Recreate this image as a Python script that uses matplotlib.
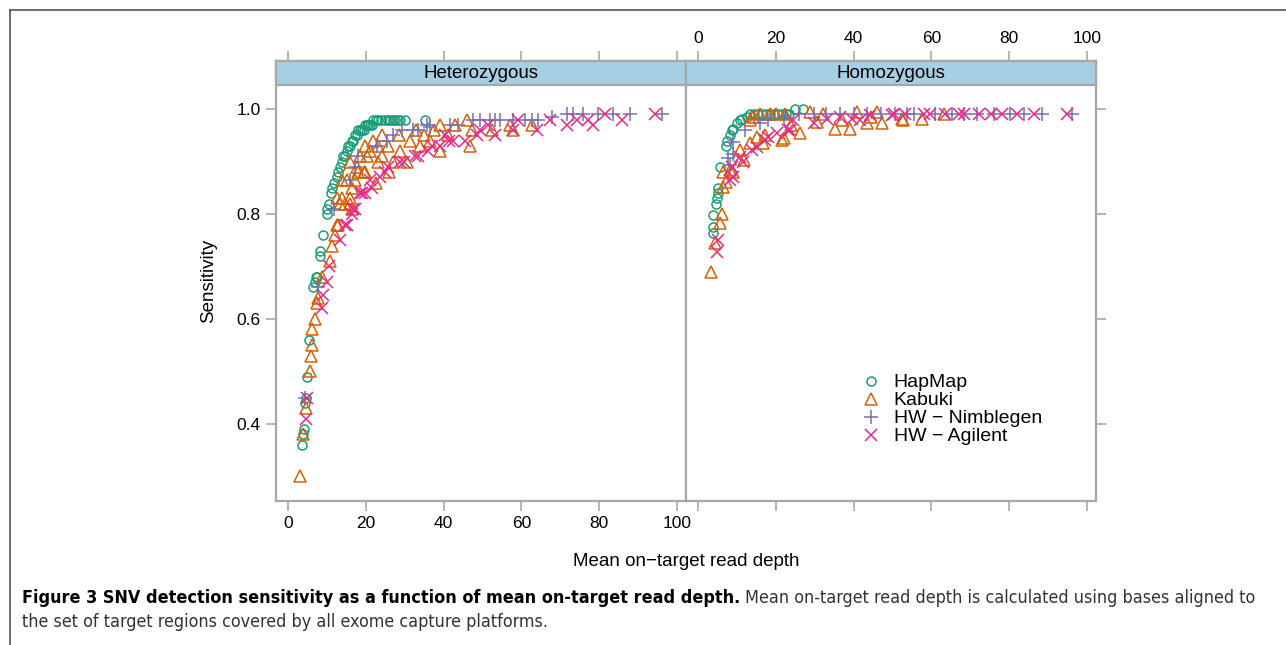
import numpy as np
import matplotlib.pyplot as plt
from matplotlib.patches import Rectangle
from matplotlib.lines import Line2D

# ---- data ----
het_hapmap_x = [3.6, 3.9, 4.0, 4.4, 4.5, 4.8, 5.5, 6.5, 6.9, 7.3, 7.4, 8.1, 8.2, 8.9, 9.9, 9.9, 10.4, 11.0,
                11.2, 11.7, 12.5, 12.9, 13.4, 13.8, 14.2, 14.7, 15.1, 15.5, 15.9, 16.4, 16.8, 17.3, 17.7, 18.1,
                18.5, 19.0, 19.4, 19.8, 20.2, 20.6, 21.1, 21.5, 21.9, 22.5, 23.2, 24.0, 24.9, 25.6, 26.2, 27.0,
                27.5, 28.2, 28.8, 30.1, 35.2]
het_hapmap_y = [0.36, 0.38, 0.39, 0.44, 0.45, 0.49, 0.56, 0.66, 0.67, 0.68, 0.68, 0.72, 0.73, 0.76, 0.80, 0.81,
                0.82, 0.84, 0.85, 0.86, 0.87, 0.88, 0.89, 0.90, 0.91, 0.91, 0.92, 0.93, 0.93, 0.94, 0.94, 0.95,
                0.95, 0.96, 0.96, 0.96, 0.96, 0.97, 0.97, 0.97, 0.97, 0.97, 0.98, 0.98, 0.98, 0.98, 0.98, 0.98,
                0.98, 0.98, 0.98, 0.98, 0.98, 0.98, 0.98]

het_kabuki_x = [3.1, 3.9, 4.6, 5.7, 5.9, 6.1, 6.1, 6.9, 7.4, 7.8, 8.7, 10.8, 11.2, 12.0, 12.5, 12.9, 12.5, 13.4,
                13.8, 14.7, 15.9, 16.4, 15.9, 13.8, 15.1, 16.4, 17.3, 18.1, 19.4, 19.8, 15.9, 17.7, 20.2, 21.1,
                19.8, 21.9, 23.2, 24.1, 24.1, 25.8, 27.0, 28.4, 28.8, 30.5, 31.4, 33.0, 33.9, 35.0, 36.5, 37.5,
                39.1, 39.1, 41.0, 43.0, 45.9, 46.8, 47.2, 52.3, 57.1, 57.9, 62.6, 22.5, 26.0, 18.5, 23.0]
het_kabuki_y = [0.30, 0.38, 0.43, 0.50, 0.53, 0.55, 0.58, 0.60, 0.63, 0.64, 0.68, 0.71, 0.74, 0.76, 0.78, 0.78,
                0.83, 0.82, 0.83, 0.82, 0.82, 0.81, 0.83, 0.865, 0.865, 0.85, 0.865, 0.88, 0.88, 0.88, 0.90, 0.89,
                0.91, 0.92, 0.93, 0.94, 0.90, 0.91, 0.95, 0.93, 0.90, 0.95, 0.92, 0.90, 0.94, 0.96, 0.93, 0.95,
                0.94, 0.96, 0.92, 0.97, 0.95, 0.97, 0.98, 0.93, 0.96, 0.96, 0.97, 0.96, 0.97, 0.86, 0.88, 0.91, 0.93]

het_nimble_x = [4.4, 7.8, 11.7, 15.9, 17.2, 18.1, 22.8, 25.4, 27.1, 29.2, 32.2, 33.5, 35.6, 36.5, 41.6, 43.8,
                47.6, 49.3, 51.9, 53.2, 54.5, 57.9, 60.9, 62.6, 64.3, 67.8, 71.6, 73.3, 75.9, 79.8, 83.6, 87.9, 96.1]
het_nimble_y = [0.45, 0.66, 0.81, 0.865, 0.89, 0.91, 0.93, 0.94, 0.95, 0.96, 0.96, 0.96, 0.97, 0.965, 0.97, 0.97,
                0.98, 0.98, 0.98, 0.98, 0.98, 0.98, 0.98, 0.98, 0.98, 0.985, 0.99, 0.99, 0.99, 0.99, 0.99, 0.99, 0.99]

het_agilent_x = [4.6, 4.8, 8.7, 9.1, 9.9, 10.4, 13.4, 14.7, 15.1, 16.4, 16.8, 17.2, 18.5, 18.9, 19.8, 21.1, 21.5,
                 23.7, 24.9, 25.7, 28.8, 29.9, 32.6, 33.5, 36.1, 37.0, 39.1, 40.4, 41.5, 42.5, 45.5, 48.5, 49.4,
                 51.5, 53.2, 57.9, 59.2, 63.9, 67.4, 71.6, 74.2, 77.2, 78.5, 81.5, 85.8, 94.3]
het_agilent_y = [0.41, 0.45, 0.62, 0.646, 0.67, 0.70, 0.75, 0.78, 0.78, 0.80, 0.81, 0.81, 0.84, 0.84, 0.84, 0.865,
                 0.85, 0.87, 0.88, 0.89, 0.90, 0.90, 0.91, 0.91, 0.92, 0.93, 0.93, 0.95, 0.94, 0.94, 0.94, 0.95,
                 0.96, 0.97, 0.95, 0.96, 0.98, 0.96, 0.98, 0.97, 0.98, 0.98, 0.97, 0.99, 0.98, 0.99]

hom_hapmap_x = [3.9, 3.9, 3.9, 4.6, 4.8, 5.0, 5.2, 5.7, 7.2, 7.5, 8.2, 8.7, 9.1, 10.0, 10.8, 11.2, 12.5, 13.4,
                14.5, 15.5, 16.5, 17.5, 18.5, 19.5, 20.5, 21.5, 22.5, 23.5, 25.0, 27.1]
hom_hapmap_y = [0.763, 0.776, 0.798, 0.82, 0.83, 0.84, 0.85, 0.89, 0.93, 0.94, 0.95, 0.96, 0.963, 0.973, 0.979,
                0.982, 0.985, 0.99, 0.99, 0.99, 0.99, 0.99, 0.99, 0.99, 0.99, 0.99, 0.99, 0.99, 1.0, 1.0]

hom_kabuki_x = [3.3, 4.4, 5.7, 6.1, 6.5, 7.2, 6.5, 8.2, 9.1, 11.7, 10.8, 13.4, 15.1, 16.8, 17.2, 21.5, 13.4,
                14.2, 16.0, 18.5, 20.0, 22.0, 22.4, 26.3, 28.8, 32.0, 35.3, 39.1, 40.9, 43.4, 46.0, 47.3, 52.4,
                52.8, 57.6, 63.1, 24.0, 30.5, 37.0, 44.5]
hom_kabuki_y = [0.69, 0.744, 0.782, 0.80, 0.852, 0.862, 0.88, 0.884, 0.88, 0.903, 0.922, 0.935, 0.947, 0.935,
                0.95, 0.942, 0.979, 0.985, 0.99, 0.99, 0.99, 0.944, 0.99, 0.954, 0.995, 0.99, 0.963, 0.963, 0.995,
                0.973, 0.995, 0.973, 0.982, 0.979, 0.982, 0.99, 0.97, 0.975, 0.98, 0.985]

hom_nimble_x = [7.8, 8.2, 9.1, 9.1, 12.1, 16.0, 18.1, 22.0, 26.0, 29.7, 33.0, 36.5, 40.0, 43.5, 47.0, 50.5,
                53.8, 55.4, 61.0, 65.3, 68.3, 71.7, 76.0, 80.3, 83.7, 88.4, 96.2]
hom_nimble_y = [0.906, 0.893, 0.915, 0.938, 0.96, 0.973, 0.979, 0.985, 0.99, 0.99, 0.99, 0.99, 0.99, 0.99, 0.99,
                0.99, 0.99, 0.99, 0.99, 0.99, 0.99, 0.99, 0.99, 0.99, 0.99, 0.99, 0.99]

hom_agilent_x = [4.8, 5.2, 8.2, 9.1, 8.7, 10.8, 11.5, 13.8, 15.1, 17.2, 18.1, 20.2, 23.2, 23.7, 24.5, 29.7, 33.1,
                 36.6, 39.6, 41.7, 44.3, 49.9, 50.3, 53.3, 58.0, 59.7, 63.6, 67.0, 68.3, 72.2, 75.2, 78.2, 82.0,
                 86.3, 94.9]
hom_agilent_y = [0.728, 0.75, 0.865, 0.871, 0.89, 0.909, 0.90, 0.922, 0.928, 0.941, 0.947, 0.954, 0.96, 0.96,
                 0.979, 0.973, 0.982, 0.985, 0.982, 0.979, 0.989, 0.989, 0.99, 0.99, 0.99, 0.99, 0.99, 0.99,
                 0.99, 0.99, 0.99, 0.99, 0.99, 0.99, 0.99]

panels = ["Heterozygous", "Homozygous"]
series = ["HapMap", "Kabuki", "HW \u2212 Nimblegen", "HW \u2212 Agilent"]
colors = ["#1B9E77", "#D95F02", "#7570B3", "#E7298A"]
markers = ["o", "^", "+", "x"]
msizes = [6.5, 8.5, 10, 8]
xticks = [0, 20, 40, 60, 80, 100]
yticks = [0.4, 0.6, 0.8, 1.0]

panel_data = [
    [(het_hapmap_x, het_hapmap_y), (het_kabuki_x, het_kabuki_y), (het_nimble_x, het_nimble_y), (het_agilent_x, het_agilent_y)],
    [(hom_hapmap_x, hom_hapmap_y), (hom_kabuki_x, hom_kabuki_y), (hom_nimble_x, hom_nimble_y), (hom_agilent_x, hom_agilent_y)],
]

plt.rcParams['font.family'] = ['Liberation Sans', 'DejaVu Sans']
W, H = 1286, 645
fig = plt.figure(figsize=(W / 100, H / 100), dpi=100)

gray = "#a8a8a8"
strip_px = 24
ax_top, ax_bot = 61, 501
lefts = [276, 686]
pw = 410
ymin = 0.253
ymax_data = 1.046
ymax = ymax_data + strip_px / 525.0
strip_frac = strip_px / (ax_bot - ax_top)

axes = []
for i, name in enumerate(panels):
    ax = fig.add_axes([lefts[i] / W, (H - ax_bot) / H, pw / W, (ax_bot - ax_top) / H])
    axes.append(ax)
    for (sx, sy), c, m, ms in zip(panel_data[i], colors, markers, msizes):
        ax.plot(sx, sy, linestyle="none", marker=m, markersize=ms, markerfacecolor="none",
                markeredgecolor=c, markeredgewidth=1.1, color=c)
    ax.set_xlim(-3.1, 102.3)
    ax.set_ylim(ymin, ymax)
    for sp in ax.spines.values():
        sp.set_color(gray)
        sp.set_linewidth(1.6)
    # strip
    ax.add_patch(Rectangle((0, 1 - strip_frac), 1, strip_frac, transform=ax.transAxes,
                           facecolor="#a6cfe3", edgecolor=gray, linewidth=1.6, zorder=5, clip_on=False))
    ax.text(0.5, 1 - strip_frac / 2, name, transform=ax.transAxes, ha="center", va="center",
            fontsize=13.5, zorder=6)
    ax.set_xticks(xticks)
    ax.set_yticks(yticks)
    ax.tick_params(direction="out", length=7, width=1.2, color=gray, labelsize=12.5, pad=4)
    ax.tick_params(axis="x", top=True, bottom=True, labeltop=(i == 1), labelbottom=(i == 0))
    ax.tick_params(axis="y", left=(i == 0), right=(i == 1), labelleft=(i == 0), labelright=False)
    ax.set_yticklabels(["0.4", "0.6", "0.8", "1.0"] if i == 0 else [])

axes[0].set_ylabel("Sensitivity", fontsize=13.5, labelpad=14)
fig.text(686 / W, 1 - 561 / H, "Mean on\u2212target read depth", ha="center", va="center", fontsize=13.5)

handles = [Line2D([], [], linestyle="none", marker=m, markersize=ms, markerfacecolor="none",
                  markeredgecolor=c, markeredgewidth=1.1) for c, m, ms in zip(colors, markers, msizes)]
axes[1].legend(handles, series, loc="upper left", bbox_to_anchor=((852 - 686) / pw, (ax_bot - 366) / (ax_bot - ax_top)),
               frameon=False, fontsize=14, handletextpad=0.55, labelspacing=0.02, handlelength=1.2,
               borderaxespad=0)

# frame lines of the page
fig.add_artist(Line2D([10 / W, 1], [1 - 10 / H, 1 - 10 / H], transform=fig.transFigure, color="#555555", lw=1.2))
fig.add_artist(Line2D([10 / W, 10 / W], [0, 1 - 10 / H], transform=fig.transFigure, color="#555555", lw=1.2))

# caption
cap_font = ['Liberation Sans Narrow', 'DejaVu Sans']
bold_txt = "Figure 3 SNV detection sensitivity as a function of mean on-target read depth."
t1 = fig.text(22 / W, 1 - 598 / H, bold_txt, fontsize=12.9, fontweight="bold", family=cap_font,
              ha="left", va="center", stretch="condensed")
fig.canvas.draw()
bb = t1.get_window_extent(renderer=fig.canvas.get_renderer())
fig.text((bb.x1 + 5) / W, 1 - 598 / H, "Mean on-target read depth is calculated using bases aligned to",
         fontsize=12.9, family=cap_font, ha="left", va="center", color="#333333", stretch="condensed")
fig.text(22 / W, 1 - 622 / H, "the set of target regions covered by all exome capture platforms.",
         fontsize=12.9, family=cap_font, ha="left", va="center", color="#333333", stretch="condensed")

fig.savefig("out.png", dpi=100)
